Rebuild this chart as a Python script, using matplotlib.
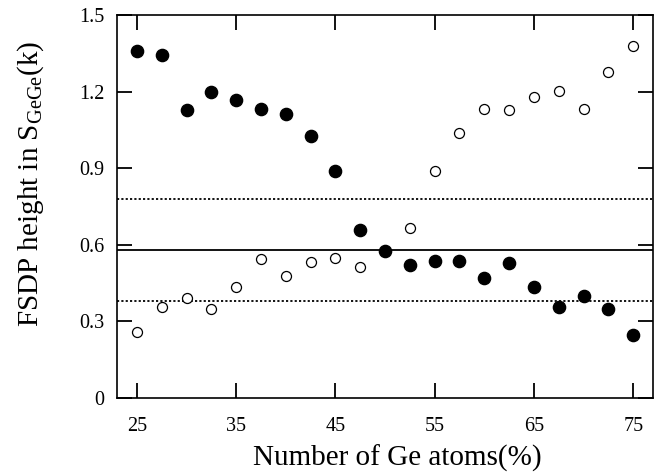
import numpy as np
import matplotlib.pyplot as plt

plt.rcParams['font.family'] = ['Liberation Serif', 'DejaVu Serif']
plt.rcParams['mathtext.fontset'] = 'custom'
plt.rcParams['mathtext.rm'] = 'Liberation Serif'
plt.rcParams['mathtext.it'] = 'Liberation Serif:italic'

# Ge content (%)
ge = [25, 27.5, 30, 32.5, 35, 37.5, 40, 42.5, 45, 47.5, 50,
      52.5, 55, 57.5, 60, 62.5, 65, 67.5, 70, 72.5, 75]

# filled circles
filled = [1.360, 1.343, 1.128, 1.200, 1.167, 1.131, 1.112, 1.026, 0.888, 0.658, 0.577,
          0.521, 0.537, 0.537, 0.469, 0.528, 0.434, 0.355, 0.401, 0.349, 0.246]

# open circles (none visible at 50%)
opened = [0.260, 0.358, 0.390, 0.349, 0.434, 0.543, 0.479, 0.534, 0.548, 0.514, np.nan,
          0.665, 0.889, 1.037, 1.131, 1.128, 1.178, 1.202, 1.133, 1.278, 1.379]

mean_level = 0.58
band = 0.2

fig = plt.figure(figsize=(6.63, 4.74), dpi=100)
ax = fig.add_axes([0.1765, 0.1603, 0.8085, 0.8080])

ax.axhline(mean_level, color='black', lw=1.3, zorder=1)
ax.axhline(mean_level + band, color='black', lw=1.3, ls=(0, (1.2, 1.2)), zorder=1)
ax.axhline(mean_level - band, color='black', lw=1.3, ls=(0, (1.2, 1.2)), zorder=1)

ax.plot(ge, opened, 'o', ms=7.2, mfc='white', mec='black', mew=0.9, ls='none', zorder=2)
ax.plot(ge, filled, 'o', ms=8.8, mfc='black', mec='black', ls='none', zorder=3)

ax.set_xlim(23, 77)
ax.set_ylim(0, 1.5)
ax.set_xticks([25, 35, 45, 55, 65, 75])
ax.set_yticks([0, 0.3, 0.6, 0.9, 1.2, 1.5])
ax.set_yticklabels(['0', '0.3', '0.6', '0.9', '1.2', '1.5'])
ax.tick_params(direction='in', length=11, width=1.3, top=True, right=True,
               labelsize=14.5)
ax.tick_params(axis='x', pad=14)
ax.tick_params(axis='y', pad=9)
for s in ax.spines.values():
    s.set_linewidth(1.2)

ax.set_xlabel('Number of Ge atoms(%)', fontsize=21)
ax.xaxis.set_label_coords(0.522, -0.122)
ax.set_ylabel(r'FSDP height in S$_{\mathrm{GeGe}}$(k)', fontsize=21)
ax.yaxis.set_label_coords(-0.133, 0.56)

fig.savefig('out.png', dpi=100)
